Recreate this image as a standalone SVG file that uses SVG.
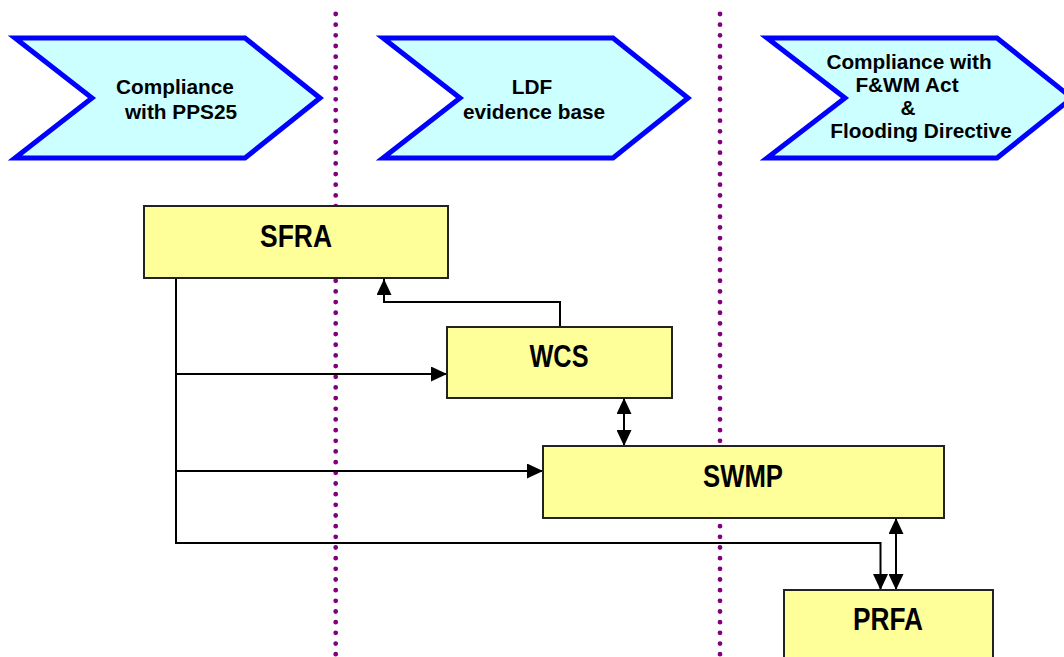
<svg xmlns="http://www.w3.org/2000/svg" width="1064" height="657" viewBox="0 0 1064 657">
<style>
.bg{fill:#ffffff}
.sep{stroke:#800080;stroke-width:4.8;stroke-linecap:round;stroke-dasharray:0 10.67;fill:none}
.chev{fill:#ccffff;stroke:#0000ff;stroke-width:5;stroke-linejoin:miter}
.ct{font-family:"Liberation Sans",Arial,sans-serif;font-weight:bold;font-size:20.8px;fill:#000;text-anchor:middle}
.box{fill:#ffff99;stroke:#222222;stroke-width:2}
.bt{font-family:"Liberation Sans",Arial,sans-serif;font-weight:bold;font-size:31px;fill:#000;text-anchor:middle}
.con{fill:none;stroke:#000;stroke-width:2}
</style>
<defs>
<marker id="ah" markerUnits="userSpaceOnUse" markerWidth="16" markerHeight="15" refX="16" refY="7.5" orient="auto-start-reverse">
<path d="M0,0 L16,7.5 L0,15 z" fill="#000"/>
</marker>
</defs>
<rect class="bg" x="0" y="0" width="1064" height="657"/>
<g id="separators">
<path class="sep" d="M335.7,14 V657"/>
<path class="sep" d="M720,14 V657"/>
</g>
<g id="chevron-pps25">
<polygon class="chev" points="15,38 245,38 320,98 245,158 15,158 92,98"/>
<text class="ct" x="175" y="94">Compliance</text>
<text class="ct" x="181" y="119">with PPS25</text>
</g>
<g id="chevron-ldf">
<polygon class="chev" points="383,38 613,38 688,98 613,158 383,158 460,98"/>
<text class="ct" x="532" y="94">LDF</text>
<text class="ct" x="534" y="119">evidence base</text>
</g>
<g id="chevron-fwm">
<polygon class="chev" points="767,38 997,38 1072,98 997,158 767,158 845,98"/>
<text class="ct" x="909" y="69">Compliance with</text>
<text class="ct" x="907" y="92">F&amp;WM Act</text>
<text class="ct" x="908" y="115">&amp;</text>
<text class="ct" x="921" y="138">Flooding Directive</text>
</g>
<g id="connectors">
<path class="con" d="M560,326 V302 H384 V279" marker-end="url(#ah)"/>
<path class="con" d="M176,278 V543 H880.5 V590" marker-end="url(#ah)"/>
<path class="con" d="M176,374 H447" marker-end="url(#ah)"/>
<path class="con" d="M176,471 H543" marker-end="url(#ah)"/>
<path class="con" d="M624,398 V446" marker-start="url(#ah)" marker-end="url(#ah)"/>
<path class="con" d="M896,518 V590" marker-start="url(#ah)" marker-end="url(#ah)"/>
</g>
<g id="node-sfra">
<rect class="box" x="144" y="206" width="304" height="72"/>
<text class="bt" x="296" y="247" textLength="72" lengthAdjust="spacingAndGlyphs">SFRA</text>
</g>
<g id="node-wcs">
<rect class="box" x="447" y="327" width="225" height="71"/>
<text class="bt" x="559" y="367" textLength="59" lengthAdjust="spacingAndGlyphs">WCS</text>
</g>
<g id="node-swmp">
<rect class="box" x="543" y="446" width="401" height="72"/>
<text class="bt" x="743" y="487" textLength="80" lengthAdjust="spacingAndGlyphs">SWMP</text>
</g>
<g id="node-prfa">
<rect class="box" x="784" y="590" width="209" height="80"/>
<text class="bt" x="888" y="630" textLength="70" lengthAdjust="spacingAndGlyphs">PRFA</text>
</g>
</svg>
